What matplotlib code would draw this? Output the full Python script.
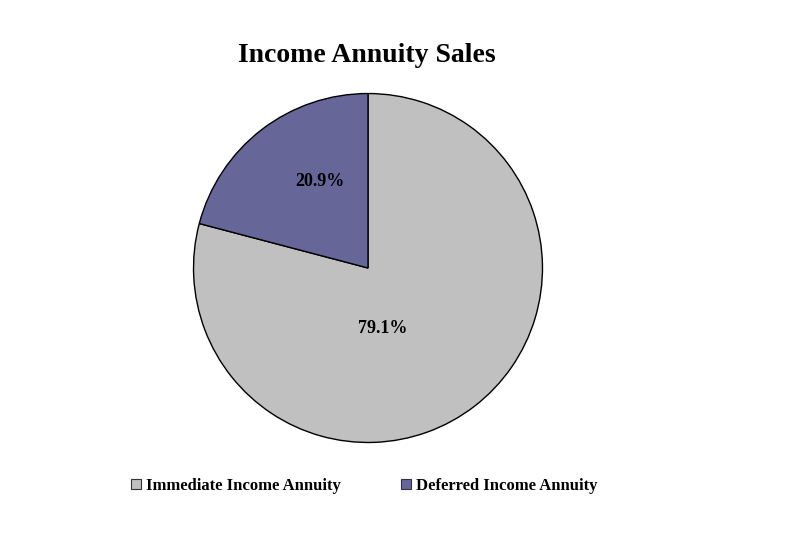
import matplotlib
matplotlib.use("Agg")
import matplotlib.pyplot as plt
from matplotlib.patches import Patch

categories = ["Immediate Income Annuity", "Deferred Income Annuity"]
values = [79.1, 20.9]
colors = ["#C0C0C0", "#666699"]
title = "Income Annuity Sales"

plt.rcParams['font.family'] = ['Liberation Serif', 'DejaVu Serif']

W, H = 812, 550
fig = plt.figure(figsize=(W/100, H/100), dpi=100)
cx, cy, r = 368, 268, 175
ax = fig.add_axes([(cx - r)/W, (H - cy - r)/H, 2*r/W, 2*r/H])
wedges, texts, autotexts = ax.pie(values, colors=colors, startangle=90, counterclock=False,
                                  autopct=lambda p: f"{p:.1f}%",
                                  wedgeprops=dict(edgecolor="black", linewidth=1.0),
                                  textprops=dict(fontsize=13, fontweight="bold", color="black"),
                                  radius=1.0)
ax.set_xlim(-1.003, 1.003)
ax.set_ylim(-1.003, 1.003)
ax.set_aspect("equal")
# Label placement as in reference (fractions of radius)
label_pos = [(0.086, -0.349), (-0.274, 0.493)]
for t, (x, y) in zip(autotexts, label_pos):
    t.set_position((x, y))
    t.set_ha("center"); t.set_va("center")

fig.text(367/W, 1 - 55/H, title, ha="center", va="center", fontsize=20, fontweight="bold")

handles = [Patch(facecolor=c, edgecolor="#333333", linewidth=0.8) for c in colors]
fig.legend(handles, categories, loc="center", bbox_to_anchor=(364/W, 1 - 486/H), ncol=2,
           frameon=False, prop=dict(size=12.0, weight="bold"), handlelength=0.6, handleheight=0.6,
           handletextpad=0.3, columnspacing=3.6)

fig.savefig("out.png", dpi=100)
